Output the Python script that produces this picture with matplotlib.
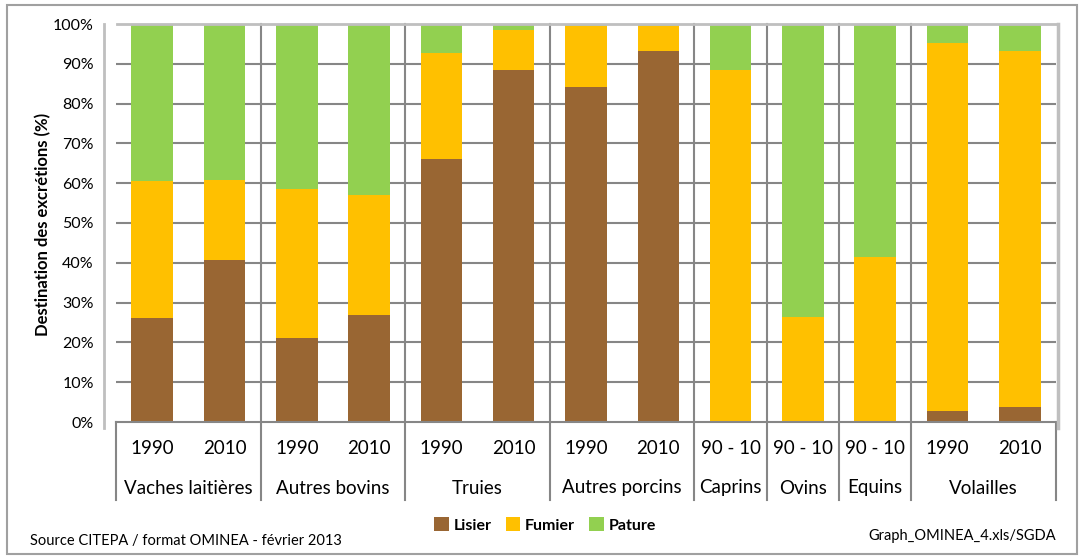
import matplotlib
matplotlib.use("Agg")
import matplotlib.pyplot as plt
from matplotlib.lines import Line2D
from matplotlib.patches import Rectangle
import matplotlib.transforms as mtransforms
import numpy as np

plt.rcParams['font.family'] = ['Lato', 'DejaVu Sans']

# données (% des excrétions)
annees = ['1990', '2010', '1990', '2010', '1990', '2010', '1990', '2010',
          '90 - 10', '90 - 10', '90 - 10', '1990', '2010']
groupes = ['Vaches laitières', 'Autres bovins', 'Truies', 'Autres porcins',
           'Caprins', 'Ovins', 'Equins', 'Volailles']
taille_groupes = [2, 2, 2, 2, 1, 1, 1, 2]
lisier = [26.1, 40.7, 21.1, 26.9, 66.1, 88.4, 84.2, 93.2, 0, 0, 0, 2.8, 3.8]
fumier = [34.4, 20.1, 37.4, 30.1, 26.6, 10.1, 15.3, 6.3, 88.4, 26.4, 41.5, 92.4, 89.4]
pature = [39.5, 39.2, 41.5, 43.0, 7.3, 1.5, 0.5, 0.5, 11.6, 73.6, 58.5, 4.8, 6.8]

c_lisier = '#996633'
c_fumier = '#FFC000'
c_pature = '#92D050'
gris = '#868686'
gris_clair = '#BFBFBF'

W, H = 1080, 559
fig = plt.figure(figsize=(W / 100, H / 100), dpi=100)
ax = fig.add_axes([116 / W, 1 - 422 / H, 940 / W, 398 / H])

x = np.arange(len(annees))
l = np.array(lisier)
f = np.array(fumier)
p = np.array(pature)
larg = 0.575
ax.bar(x, l, larg, color=c_lisier, label='Lisier', zorder=3)
ax.bar(x, f, larg, bottom=l, color=c_fumier, label='Fumier', zorder=3)
ax.bar(x, p, larg, bottom=l + f, color=c_pature, label='Pature', zorder=3)

ax.set_xlim(-0.5, len(annees) - 0.5)
ax.set_ylim(0, 100)
ax.set_yticks(range(0, 101, 10))
ax.set_yticklabels([f'{v}%' for v in range(0, 101, 10)], fontsize=11.5)
ax.tick_params(axis='y', length=0, pad=16)
ax.set_xticks([])

for v in range(10, 100, 10):
    ax.axhline(v, color=gris, lw=1.5, zorder=1)
for s in ['left', 'right', 'top']:
    ax.spines[s].set_visible(False)
ax.spines['bottom'].set_color(gris)
ax.spines['bottom'].set_linewidth(1.5)
ax.spines['bottom'].set_zorder(4)

# bord clair du graphique
fig.add_artist(Line2D([117 / W, 1057 / W], [1 - 24 / H] * 2, color=gris_clair, lw=2))
fig.add_artist(Line2D([104 / W] * 2, [1 - 24 / H, 1 - 428 / H], color=gris_clair, lw=2))
fig.add_artist(Line2D([1058 / W] * 2, [1 - 24 / H, 1 - 428 / H], color=gris_clair, lw=2.5))

trans = mtransforms.blended_transform_factory(ax.transData, ax.transAxes)
bas = -78 / 398

# étiquettes des années
for xi, a in zip(x, annees):
    ax.text(xi, -26 / 398, a, transform=trans, ha='center', va='center', fontsize=13.5)

# groupes et séparateurs
debut = -0.5
sep = []
for g, n in zip(groupes, taille_groupes):
    ax.text(debut + n / 2, -66 / 398, g, transform=trans, ha='center', va='center', fontsize=13.5)
    debut += n
    sep.append(debut)
for s in sep[:-1]:
    ax.plot([s, s], [1, bas], transform=trans, color=gris, lw=1.5, clip_on=False, zorder=2)
for s in [-0.5, sep[-1]]:
    ax.plot([s, s], [0, bas], transform=trans, color=gris, lw=1.5, clip_on=False, zorder=2)

fig.text(43 / W, 1 - 224 / H, 'Destination des excrétions (%)', rotation=90,
         ha='center', va='center', fontsize=12, fontweight='bold')

leg = fig.legend(loc='center', bbox_to_anchor=(545 / W, 1 - 525 / H), ncol=3, frameon=False,
                 prop={'weight': 'bold', 'size': 11.5}, handlelength=0.9, handleheight=0.9,
                 handletextpad=0.3, columnspacing=0.9)

fig.text(30 / W, 1 - 541 / H, 'Source CITEPA / format OMINEA - février 2013',
         ha='left', va='center', fontsize=10.5)
fig.text(1056 / W, 1 - 536 / H, 'Graph_OMINEA_4.xls/SGDA',
         ha='right', va='center', fontsize=10.5)

fig.add_artist(Rectangle((7 / W, 1 - 554 / H), 1070 / W, 549 / H, fill=False,
                         edgecolor='#A0A0A0', lw=1.5, transform=fig.transFigure))

fig.savefig('out.png', dpi=100)
